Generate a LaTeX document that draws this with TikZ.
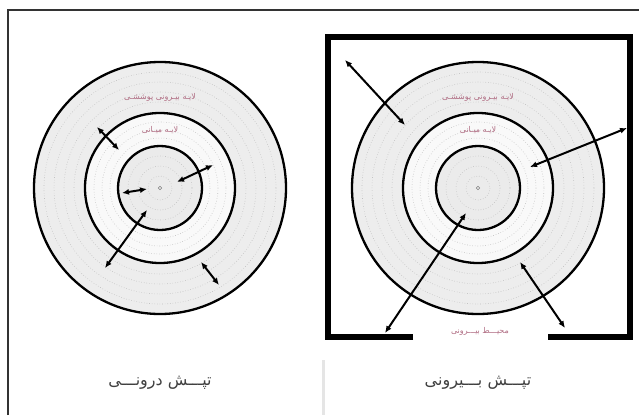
\documentclass[tikz,border=0pt]{standalone}
\usepackage{fontspec}
\newfontfamily\farsi[Script=Arabic]{DejaVu Sans}
\TeXXeTstate=1
\usetikzlibrary{arrows.meta}
\definecolor{cL}{RGB}{150,60,90}

\begin{document}
\begin{tikzpicture}[x=1pt, y=-1pt, >={Latex[length=7pt,width=6pt]},
  ring/.style={circle, draw=black, line width=2.3pt, inner sep=0pt},
  tex/.style={draw=gray!50, dotted, line width=0.6pt},
  beat/.style={<->, line width=2pt},
  lbl/.style={font=\farsi\fontsize{8}{9}\selectfont, text=cL!75, inner sep=1pt},
  title/.style={font=\farsi\fontsize{16}{19}\selectfont, text=black!75}]

    \useasboundingbox (0,0) rectangle (639,415);

    % Outer frame of the figure
    \draw[line width=1.2pt, black!80] (8,415) -- (8,10) -- (639,10);
    \draw[gray!20, line width=3pt] (323,360) -- (323,415);

    % The same three layers for both pictures
    \foreach \cx/\s in {160/L, 478/R} {
        \node[ring, fill=gray!14, minimum size=252pt] (outer\s) at (\cx,188) {};
        \foreach \r in {86,96,...,122}
            \draw[tex] (outer\s.center) circle[radius=\r];
        \node[ring, fill=gray!5, minimum size=150pt] (mid\s) at (\cx,188) {};
        \foreach \r in {50,58,66}
            \draw[tex] (mid\s.center) circle[radius=\r];
        \node[ring, fill=gray!16, minimum size=84pt] (core\s) at (\cx,188) {};
        \foreach \r in {12,22,32}
            \draw[tex] (core\s.center) circle[radius=\r];
        \node[circle, draw=gray, line width=0.5pt, inner sep=1.2pt] (ctr\s) at (\cx,188) {};
        \node[lbl] (labO\s) at (\cx,97) {\beginR لایـه بیـرونی پوششـی\endR};
        \node[lbl] (labM\s) at (\cx,130) {\beginR لایـه میـانی\endR};
    }

    % Thick box round the right picture, open at the bottom
    \draw[line width=6pt, line join=miter] (413,337) -- (328,337) -- (328,37)
        -- (630,37) -- (630,337) -- (548,337);
    \node[lbl] (env) at (480,331) {\beginR محیـــط بیـــرونی\endR};

    % Arrow ends, left picture
    \coordinate (L1a) at (97,127);  \coordinate (L1b) at (119,150);
    \coordinate (L2a) at (122,193); \coordinate (L2b) at (147,189);
    \coordinate (L3a) at (177,182); \coordinate (L3b) at (213,165);
    \coordinate (L4a) at (105,268); \coordinate (L4b) at (147,210);
    \coordinate (L5a) at (201,262); \coordinate (L5b) at (219,285);
    \foreach \k in {1,...,5}
        \draw[beat] (L\k a) -- (L\k b);

    % Arrow ends, right picture
    \coordinate (R1a) at (345,60);  \coordinate (R1b) at (405,125);
    \coordinate (R2a) at (530,167); \coordinate (R2b) at (627,128);
    \coordinate (R3a) at (385,333); \coordinate (R3b) at (466,213);
    \coordinate (R4a) at (520,262); \coordinate (R4b) at (565,328);
    \foreach \k in {1,...,4}
        \draw[beat] (R\k a) -- (R\k b);

    % Titles
    \node[title] (titleL) at (160,383) {\beginR تپـــش درونـــی\endR};
    \node[title] (titleR) at (478,383) {\beginR تپـــش بـــیرونی\endR};
\end{tikzpicture}
\end{document}
